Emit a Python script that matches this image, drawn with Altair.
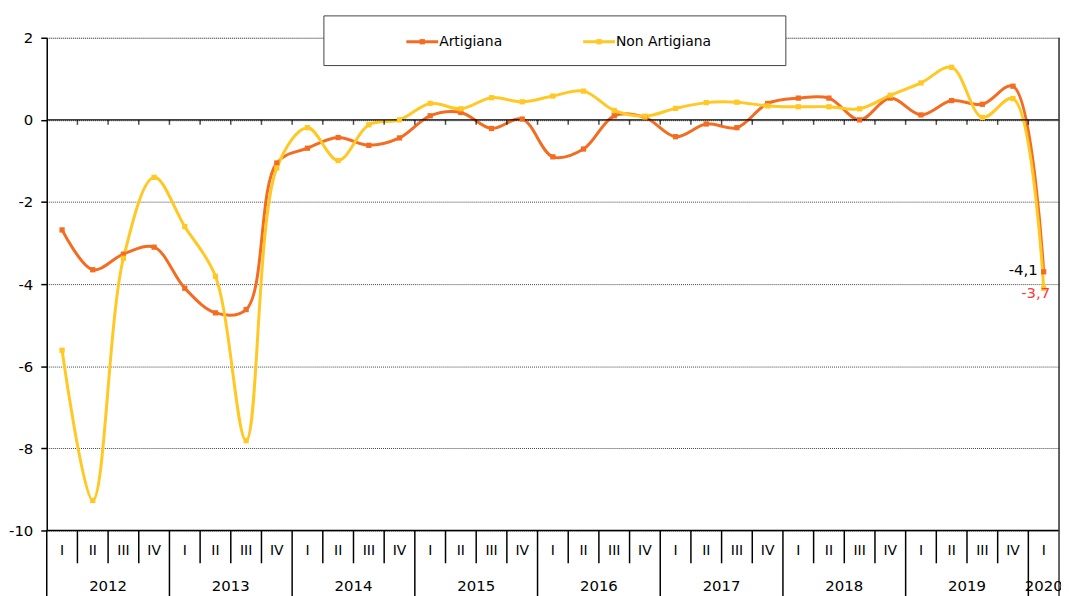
import altair as alt
import pandas as pd

quarters = ["I", "II", "III", "IV"] * 8 + ["I"]
years = ["2012", "2013", "2014", "2015", "2016", "2017", "2018", "2019", "2020"]
artigiana = [-2.68, -3.65, -3.27, -3.10, -4.10, -4.70, -4.62, -1.05,
             -0.69, -0.43, -0.62, -0.44, 0.10, 0.18, -0.21, 0.02,
             -0.90, -0.71, 0.10, 0.06, -0.41, -0.10, -0.19, 0.40,
             0.53, 0.53, 0.00, 0.53, 0.12, 0.47, 0.38, 0.82, -3.70]
non_artigiana = [-5.61, -9.27, -3.37, -1.40, -2.60, -3.81, -7.81, -1.17,
                 -0.19, -0.99, -0.12, 0.00, 0.40, 0.27, 0.54, 0.44,
                 0.58, 0.70, 0.23, 0.09, 0.28, 0.42, 0.43, 0.34,
                 0.32, 0.32, 0.27, 0.60, 0.90, 1.28, 0.06, 0.52, -4.10]
series = ["Artigiana", "Non Artigiana"]
colors = ["#F36C21", "#FFC824"]
end_labels = ["-4,1", "-3,7"]
end_label_colors = ["#000000", "#FF3B3B"]
y_ticks = [-10, -8, -6, -4, -2, 0, 2]

W, H = 1019, 496
FONT = "DejaVu Sans"

n = len(quarters)
rows = []
for s, vals in zip(series, [artigiana, non_artigiana]):
    for i, v in enumerate(vals):
        rows.append({"x": i + 0.5, "value": v, "series": s})
df = pd.DataFrame(rows)

xscale = alt.Scale(domain=[0, n], nice=False, zero=False)
yscale = alt.Scale(domain=[-10, 2], nice=False, zero=False)
yaxis = alt.Axis(values=y_ticks, grid=True, gridDash=[1, 1], gridColor="#444444",
                 gridWidth=1, domain=True, domainColor="black", domainWidth=1.5,
                 tickColor="black", tickSize=6, tickWidth=1.5, labelFontSize=15,
                 labelColor="black", labelPadding=8, title=None, labelFont=FONT,
                 labelExpr="'' + datum.value")
color = alt.Color("series:N", scale=alt.Scale(domain=series, range=colors), legend=None)

lines = alt.Chart(df).mark_line(interpolate="catmull-rom", strokeWidth=3).encode(
    x=alt.X("x:Q", scale=xscale, axis=None),
    y=alt.Y("value:Q", scale=yscale, axis=yaxis),
    color=color,
    detail="series:N",
)
points = alt.Chart(df).mark_square(size=28, opacity=1).encode(
    x=alt.X("x:Q", scale=xscale, axis=None),
    y=alt.Y("value:Q", scale=yscale, axis=yaxis),
    color=color,
)

zero_df = pd.DataFrame({"v": [0]})
zero_line = alt.Chart(zero_df).mark_rule(color="black", strokeWidth=1.5).encode(
    y=alt.Y("v:Q", scale=yscale, axis=yaxis), x=alt.value(0), x2=alt.value(W))
bottom_df = pd.DataFrame({"v": [-10]})
bottom_line = alt.Chart(bottom_df).mark_rule(color="black", strokeWidth=1.5).encode(
    y=alt.Y("v:Q", scale=yscale, axis=yaxis), x=alt.value(0), x2=alt.value(W))

bounds = pd.DataFrame({"k": list(range(1, n)), "v": [0] * (n - 1)})
zero_ticks = alt.Chart(bounds).mark_tick(orient="vertical", size=5, thickness=1.5,
                                         color="black", yOffset=2.5).encode(
    x=alt.X("k:Q", scale=xscale, axis=None),
    y=alt.Y("v:Q", scale=yscale, axis=yaxis))

q_sep = pd.DataFrame({"k": [k for k in range(1, n) if k % 4 != 0]})
quarter_seps = alt.Chart(q_sep).mark_rule(color="black", strokeWidth=1.5).encode(
    x=alt.X("k:Q", scale=xscale, axis=None), y=alt.value(H), y2=alt.value(H + 33))
y_sep = pd.DataFrame({"k": [k for k in range(0, n) if k % 4 == 0]})
year_seps = alt.Chart(y_sep).mark_rule(color="black", strokeWidth=1.5).encode(
    x=alt.X("k:Q", scale=xscale, axis=None), y=alt.value(H), y2=alt.value(H + 66))
right_df = pd.DataFrame({"k": [n]})
right_border = alt.Chart(right_df).mark_rule(color="#333333", strokeWidth=1.5).encode(
    x=alt.X("k:Q", scale=xscale, axis=None), y=alt.value(0), y2=alt.value(H + 66))

q_df = pd.DataFrame({"x": [i + 0.5 for i in range(n)], "q": quarters})
quarter_text = alt.Chart(q_df).mark_text(fontSize=14, font=FONT, color="black",
                                         baseline="middle").encode(
    x=alt.X("x:Q", scale=xscale, axis=None), y=alt.value(H + 21), text="q:N")
yr_df = pd.DataFrame({"x": [4 * i + 2 for i in range(len(years) - 1)] + [n - 0.5],
                      "yr": years})
year_text = alt.Chart(yr_df).mark_text(fontSize=15, font=FONT, color="black",
                                       baseline="middle").encode(
    x=alt.X("x:Q", scale=xscale, axis=None), y=alt.value(H + 56), text="yr:N")

lab1 = alt.Chart(pd.DataFrame({"x": [n - 0.5], "v": [artigiana[-1]], "t": [end_labels[0]]})).mark_text(
    fontSize=15, font=FONT, color=end_label_colors[0], align="right", baseline="middle", dx=-6, dy=-2
).encode(x=alt.X("x:Q", scale=xscale, axis=None), y=alt.Y("v:Q", scale=yscale, axis=yaxis), text="t:N")
lab2 = alt.Chart(pd.DataFrame({"x": [n - 0.5], "v": [non_artigiana[-1]], "t": [end_labels[1]]})).mark_text(
    fontSize=15, font=FONT, color=end_label_colors[1], align="center", baseline="middle", dx=-8, dy=5
).encode(x=alt.X("x:Q", scale=xscale, axis=None), y=alt.Y("v:Q", scale=yscale, axis=yaxis), text="t:N")

one = pd.DataFrame({"a": [1]})
legend_box = alt.Chart(one).mark_rect(fill="white", stroke="#444444", strokeWidth=1).encode(
    x=alt.value(279), x2=alt.value(744), y=alt.value(-22), y2=alt.value(28))
legend_layers = [legend_box]
for s, c, x0 in zip(series, colors, [362, 540]):
    legend_layers.append(alt.Chart(one).mark_rule(color=c, strokeWidth=3).encode(
        x=alt.value(x0), x2=alt.value(x0 + 32), y=alt.value(4)))
    legend_layers.append(alt.Chart(one).mark_square(color=c, size=28, opacity=1).encode(
        x=alt.value(x0 + 16), y=alt.value(4)))
    legend_layers.append(alt.Chart(pd.DataFrame({"t": [s]})).mark_text(
        fontSize=14, font=FONT, color="black", align="left", baseline="middle").encode(
        x=alt.value(x0 + 33), y=alt.value(4), text="t:N"))

chart = alt.layer(
    lines, zero_line, bottom_line, zero_ticks, quarter_seps, year_seps, right_border,
    quarter_text, year_text, points, lab1, lab2, *legend_layers
).properties(
    width=W, height=H,
    autosize=alt.AutoSizeParams(type="none"),
    padding={"left": 39, "top": 28, "right": 2, "bottom": 64},
).configure_view(stroke=None).configure(font=FONT)

chart.save("out.html", embed_options={"renderer": "svg", "actions": False})
